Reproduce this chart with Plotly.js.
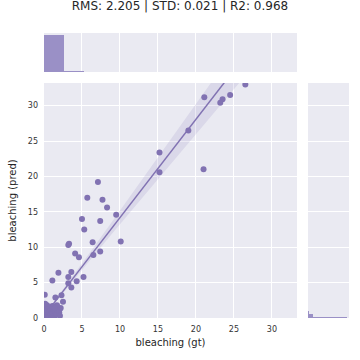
<!DOCTYPE html>
<html>
<head>
<meta charset="utf-8">
<script src="https://cdn.plot.ly/plotly-3.0.1.min.js"></script>
<style>
  html, body { margin: 0; padding: 0; background: #fff; }
  #plot { width: 360px; height: 360px; }
</style>
</head>
<body>
<div id="plot"></div>
<script>
// Scatter points (gt vs pred)
let gtValues = [26.5, 21.1, 24.5, 23.5, 23.2, 19.0, 15.2, 15.2, 21.0, 7.1, 5.7, 7.7, 8.3, 9.5, 5.0,
  7.4, 5.3, 3.3, 3.2, 6.4, 10.1, 4.1, 4.6, 7.4, 6.5, 1.9, 1.1, 3.6, 3.2, 4.3, 5.2, 3.2, 3.6,
  0.1, 1.5, 2.3, 2.5, 1.7, 1.1, 2.1,
  0.1, 0.2, 0.3, 0.4, 0.5, 0.6, 0.7, 0.8, 0.9, 1.0, 1.1, 1.2, 1.3, 1.4, 1.5, 1.6, 1.8, 2.0,
  0.2, 0.1, 0.3, 0.5, 0.0, 0.0, 0.6, 1.0, 1.2, 0.8, 2.2, 0.4, 1.7, 0.15, 2.1, 0.0, 1.4];
let predValues = [33.0, 31.2, 31.5, 30.9, 30.4, 26.5, 23.4, 20.6, 21.0, 19.2, 17.0, 16.7, 15.6, 14.6, 14.0,
  13.7, 12.5, 10.5, 10.3, 10.7, 10.8, 9.1, 8.6, 9.4, 8.9, 6.4, 5.3, 6.5, 5.8, 5.2, 5.8, 4.9, 4.3,
  3.3, 2.9, 3.2, 2.3, 1.7, 1.7, 1.3,
  0.1, 0.3, 0.1, 0.5, 0.2, 0.8, 0.4, 0.1, 0.6, 1.0, 0.3, 0.7, 1.2, 0.2, 0.9, 0.5, 1.1, 0.8,
  0.9, 1.4, 1.1, 1.3, 0.6, 0.0, 0.0, 0.0, 1.6, 1.5, 1.4, 1.8, 1.8, 2.0, 0.3, 1.0, 1.4];

// Regression line and confidence band
let fitX = [0, 26.5];
let fitY = [0.3, 37.1];
let bandX = [0, 3, 6, 9, 12, 15, 18, 21, 24, 26.5];
let bandLow = [0.2, 4.22, 8.09, 11.96, 15.78, 19.6, 23.42, 27.24, 31.06, 34.24];
let bandHigh = [0.4, 4.72, 9.19, 13.66, 18.18, 22.7, 27.22, 31.74, 36.26, 40.04];

// Marginal histograms (bin edges and counts)
let topBinEdges = [0, 2.65, 5.3, 7.95, 10.6, 13.25, 15.9, 18.55, 21.2, 23.85, 26.5];
let topCounts = [1000, 27, 6, 4, 3, 2, 3, 2, 3, 2];
let rightBinEdges = [0, 0.18, 0.6, 1.0, 1.4, 1.8];
let rightCounts = [1000, 130, 25, 10, 5];

let ticks = [0, 5, 10, 15, 20, 25, 30];
let titleText = 'RMS: 2.205 | STD: 0.021 | R2: 0.968';

let purple = '#8172B2';
let histColor = '#9a90c6';
let font = 'DejaVu Sans';

function centers(edges) {
    let c = [];
    for (let i = 0; i < edges.length - 1; i++) c.push((edges[i] + edges[i + 1]) / 2);
    return c;
}
function widths(edges) {
    let w = [];
    for (let i = 0; i < edges.length - 1; i++) w.push(edges[i + 1] - edges[i]);
    return w;
}

let data = [
    {
        x: bandX, y: bandLow, mode: 'lines', type: 'scatter',
        line: {width: 0}, hoverinfo: 'skip', showlegend: false
    },
    {
        x: bandX, y: bandHigh, mode: 'lines', type: 'scatter',
        line: {width: 0}, fill: 'tonexty', fillcolor: 'rgba(129,114,178,0.15)',
        hoverinfo: 'skip', showlegend: false
    },
    {
        x: gtValues, y: predValues, mode: 'markers', type: 'scatter',
        marker: {color: purple, size: 6}, showlegend: false
    },
    {
        x: fitX, y: fitY, mode: 'lines', type: 'scatter',
        line: {color: purple, width: 1.5}, showlegend: false
    },
    {
        x: centers(topBinEdges), y: topCounts, width: widths(topBinEdges), type: 'bar',
        xaxis: 'x2', yaxis: 'y2', marker: {color: histColor, line: {width: 0}}, showlegend: false
    },
    {
        y: centers(rightBinEdges), x: rightCounts, width: widths(rightBinEdges), type: 'bar',
        orientation: 'h', xaxis: 'x3', yaxis: 'y3',
        marker: {color: histColor, line: {width: 0}}, showlegend: false
    }
];

let gridAxis = {
    showgrid: true, gridcolor: '#ffffff', gridwidth: 1,
    zeroline: false, showline: false, ticks: ''
};

let layout = {
    width: 360, height: 360,
    margin: {l: 0, r: 0, t: 0, b: 0},
    paper_bgcolor: '#ffffff',
    plot_bgcolor: '#EAEAF2',
    font: {family: font, color: '#262626'},
    bargap: 0,
    title: {
        text: titleText, font: {family: font, size: 12, color: '#262626'},
        x: 0.5, xanchor: 'center', y: 0.983, yanchor: 'middle', yref: 'container'
    },
    xaxis: Object.assign({}, gridAxis, {
        domain: [0.1222, 0.825], range: [0, 33.3], anchor: 'y',
        tickvals: ticks, tickfont: {size: 8, color: '#333333'}, ticklabelstandoff: 5,
        title: {text: 'bleaching (gt)', font: {size: 10, color: '#262626'}, standoff: 6}
    }),
    yaxis: Object.assign({}, gridAxis, {
        domain: [0.1167, 0.7694], range: [0, 33.2], anchor: 'x',
        tickvals: ticks, tickfont: {size: 8, color: '#333333'}, ticklabelstandoff: 5,
        title: {text: 'bleaching (pred)', font: {size: 10, color: '#262626'}, standoff: 9}
    }),
    xaxis2: Object.assign({}, gridAxis, {
        domain: [0.1222, 0.825], range: [0, 33.3], anchor: 'y2',
        tickvals: ticks, showticklabels: false
    }),
    yaxis2: {
        domain: [0.8, 0.9083], range: [0, 1055], anchor: 'x2',
        showgrid: false, zeroline: false, showticklabels: false, ticks: ''
    },
    xaxis3: {
        domain: [0.8556, 0.9694], range: [0, 1050], anchor: 'y3',
        showgrid: false, zeroline: false, showticklabels: false, ticks: ''
    },
    yaxis3: Object.assign({}, gridAxis, {
        domain: [0.1167, 0.7694], range: [0, 33.2], anchor: 'x3',
        tickvals: ticks, showticklabels: false
    })
};

Plotly.newPlot('plot', data, layout, {staticPlot: true});
</script>
</body>
</html>
